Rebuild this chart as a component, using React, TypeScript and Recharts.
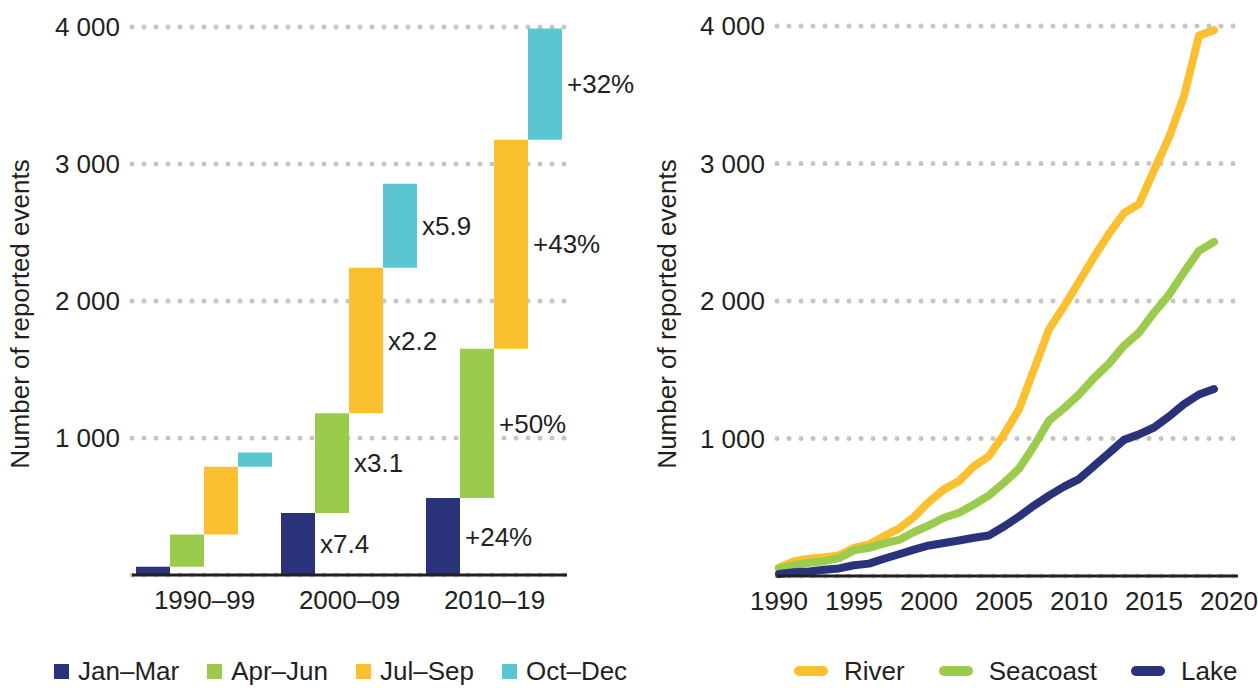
import React from 'react';
import {
  BarChart,
  Bar,
  LineChart,
  Line,
  XAxis,
  YAxis,
  CartesianGrid,
  LabelList,
} from 'recharts';

// Left panel: reported events per quarter, by decade (counts, not cumulative)
const decades = ['1990–99', '2000–09', '2010–19'];
const janMar = [61, 452, 562];
const aprJun = [235, 728, 1090];
const julSep = [494, 1063, 1525];
const octDec = [104, 613, 812];
const janMarChange = ['', 'x7.4', '+24%'];
const aprJunChange = ['', 'x3.1', '+50%'];
const julSepChange = ['', 'x2.2', '+43%'];
const octDecChange = ['', 'x5.9', '+32%'];

// Right panel: yearly series
const years = [
  1990, 1991, 1992, 1993, 1994, 1995, 1996, 1997, 1998, 1999,
  2000, 2001, 2002, 2003, 2004, 2005, 2006, 2007, 2008, 2009,
  2010, 2011, 2012, 2013, 2014, 2015, 2016, 2017, 2018, 2019,
];
const river = [
  60, 108, 125, 137, 149, 205, 229, 290, 345, 430,
  540, 630, 690, 799, 872, 1030, 1212, 1503, 1794, 1960,
  2140, 2320, 2490, 2640, 2705, 2950, 3190, 3490, 3930, 3970,
];
const seacoast = [
  55, 79, 96, 108, 130, 186, 205, 237, 262, 320,
  368, 424, 460, 520, 586, 678, 780, 945, 1130, 1220,
  1320, 1440, 1545, 1675, 1770, 1915, 2045, 2210, 2365, 2430,
];
const lake = [
  15, 28, 33, 45, 55, 78, 90, 125, 158, 192,
  222, 240, 258, 278, 295, 360, 433, 512, 585, 650,
  705, 800, 895, 990, 1030, 1080, 1160, 1250, 1320, 1360,
];

const yTicks = [1000, 2000, 3000, 4000];
const xTicks = [1990, 1995, 2000, 2005, 2010, 2015, 2020];

const NAVY = '#2a327a';
const GREEN = '#9acb4c';
const YELLOW = '#fbc02f';
const TEAL = '#5bc6d1';
const TEXT = '#231f20';
const GRID = '#c6c6c6';
const FONT = "'Liberation Sans', Arial, sans-serif";

const quarters = [
  { key: 'janMar', name: 'Jan–Mar', color: NAVY },
  { key: 'aprJun', name: 'Apr–Jun', color: GREEN },
  { key: 'julSep', name: 'Jul–Sep', color: YELLOW },
  { key: 'octDec', name: 'Oct–Dec', color: TEAL },
];

const places = [
  { key: 'river', name: 'River', color: YELLOW },
  { key: 'seacoast', name: 'Seacoast', color: GREEN },
  { key: 'lake', name: 'Lake', color: NAVY },
];

// floating (waterfall) ranges stacked within each decade
const barData = decades.map((decade, i) => {
  const a = janMar[i];
  const b = a + aprJun[i];
  const c = b + julSep[i];
  const d = c + octDec[i];
  return {
    decade,
    janMar: [0, a],
    aprJun: [a, b],
    julSep: [b, c],
    octDec: [c, d],
    janMarLabel: janMarChange[i],
    aprJunLabel: aprJunChange[i],
    julSepLabel: julSepChange[i],
    octDecLabel: octDecChange[i],
  };
});

const lineData = years.map((year, i) => ({
  year,
  river: river[i],
  seacoast: seacoast[i],
  lake: lake[i],
}));

const fmt = (v: number) => String(v).replace(/\B(?=(\d{3})+(?!\d))/g, ' ');

const tickStyle = { fill: TEXT, fontSize: 26, fontFamily: FONT };

const yLabel = (dx: number) => ({
  value: 'Number of reported events',
  angle: -90,
  position: 'center' as const,
  dx,
  dy: 13,
  style: { fill: TEXT, fontSize: 26, fontFamily: FONT, textAnchor: 'middle' as const },
});

const App: React.FC = () => {
  return (
    <div
      style={{
        position: 'absolute',
        left: 0,
        top: 0,
        width: 1258,
        height: 688,
        background: '#fff',
        fontFamily: FONT,
        color: TEXT,
        overflow: 'hidden',
      }}
    >
      <div style={{ position: 'absolute', left: 0, top: 0 }}>
        <BarChart
          width={640}
          height={688}
          data={barData}
          margin={{ top: 27, right: 73, left: 0, bottom: 0 }}
          barGap={0}
          barCategoryGap={4}
        >
          <CartesianGrid
            vertical={false}
            stroke={GRID}
            strokeWidth={5}
            strokeDasharray="0 12"
            strokeLinecap="round"
          />
          <XAxis
            dataKey="decade"
            height={113}
            tick={tickStyle}
            tickSize={0}
            tickMargin={16}
            axisLine={{ stroke: TEXT, strokeWidth: 3 }}
            tickLine={false}
          />
          <YAxis
            width={132}
            domain={[0, 4000]}
            ticks={yTicks}
            tickFormatter={fmt}
            tick={tickStyle}
            tickSize={0}
            tickMargin={12}
            axisLine={false}
            tickLine={false}
            label={yLabel(-46)}
          />
          {quarters.map((q) => (
            <Bar key={q.key} dataKey={q.key} fill={q.color} isAnimationActive={false}>
              <LabelList
                dataKey={`${q.key}Label`}
                position="right"
                offset={5}
                style={{ fill: TEXT, fontSize: 26, fontFamily: FONT }}
              />
            </Bar>
          ))}
        </BarChart>
      </div>

      <div style={{ position: 'absolute', left: 640, top: 0 }}>
        <LineChart
          width={618}
          height={688}
          data={lineData}
          margin={{ top: 26, right: 20, left: 0, bottom: 0 }}
        >
          <CartesianGrid
            vertical={false}
            stroke={GRID}
            strokeWidth={5}
            strokeDasharray="0 12"
            strokeLinecap="round"
          />
          <XAxis
            dataKey="year"
            type="number"
            domain={[1990, 2020]}
            ticks={xTicks}
            interval={0}
            padding={{ left: 2, right: 9 }}
            height={112}
            tick={tickStyle}
            tickSize={0}
            tickMargin={16}
            axisLine={{ stroke: TEXT, strokeWidth: 3 }}
            tickLine={false}
          />
          <YAxis
            width={137}
            domain={[0, 4000]}
            ticks={yTicks}
            tickFormatter={fmt}
            tick={tickStyle}
            tickSize={0}
            tickMargin={12}
            axisLine={false}
            tickLine={false}
            label={yLabel(-42)}
          />
          {places.map((p) => (
            <Line
              key={p.key}
              type="linear"
              dataKey={p.key}
              stroke={p.color}
              strokeWidth={8}
              strokeLinecap="round"
              strokeLinejoin="round"
              dot={false}
              isAnimationActive={false}
            />
          ))}
        </LineChart>
      </div>

      {/* legends */}
      <div
        style={{
          position: 'absolute',
          left: 54,
          top: 658,
          display: 'flex',
          alignItems: 'center',
          gap: 28,
          fontSize: 26,
          lineHeight: '26px',
          whiteSpace: 'nowrap',
        }}
      >
        {quarters.map((q) => (
          <div key={q.key} style={{ display: 'flex', alignItems: 'center', gap: 9 }}>
            <div style={{ width: 15, height: 15, background: q.color }} />
            <span>{q.name}</span>
          </div>
        ))}
      </div>
      <div
        style={{
          position: 'absolute',
          left: 794,
          top: 658,
          display: 'flex',
          alignItems: 'center',
          gap: 34,
          fontSize: 26,
          lineHeight: '26px',
          whiteSpace: 'nowrap',
        }}
      >
        {places.map((p) => (
          <div key={p.key} style={{ display: 'flex', alignItems: 'center', gap: 16 }}>
            <div style={{ width: 34, height: 10, borderRadius: 5, background: p.color }} />
            <span>{p.name}</span>
          </div>
        ))}
      </div>
    </div>
  );
};

export default App;
